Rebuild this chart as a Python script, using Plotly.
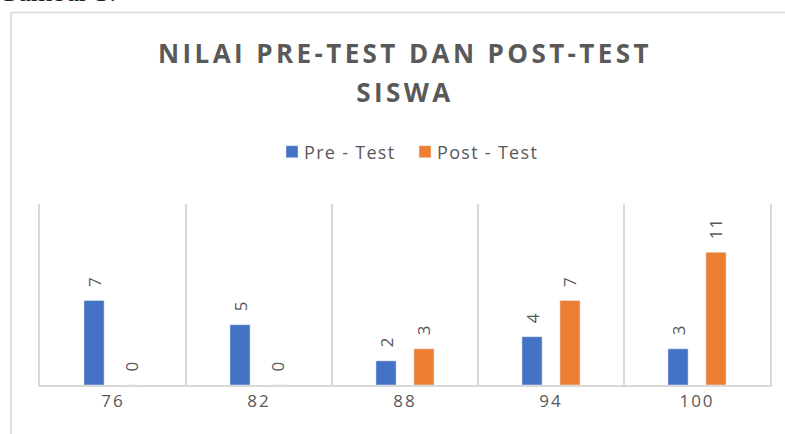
import plotly.graph_objects as go

categories = ["76", "82", "88", "94", "100"]
pre_test = [7, 5, 2, 4, 3]
post_test = [0, 0, 3, 7, 11]
series_names = ["Pre - Test", "Post - Test"]
title_text = "NILAI PRE-TEST DAN POST-TEST<br>SISWA"
caption_text = "Gambar 3."

W, H = 785, 434
L, R, T, B = 40, 15, 204, 49
pw = W - L - R
ph = H - T - B


def px_x(x):
    return (x - L) / pw


def px_y(y):
    return (H - B - y) / ph


gray = "#595959"
grid = "#D9D9D9"
fig = go.Figure()
for name, vals, col in [(series_names[0], pre_test, "#4472C4"),
                        (series_names[1], post_test, "#ED7D31")]:
    fig.add_trace(go.Bar(x=categories, y=vals, name=name, marker_color=col,
                         text=vals, textposition="outside", textangle=-90,
                         cliponaxis=False,
                         textfont=dict(size=17, color=gray, family="Open Sans")))

fig.update_layout(
    width=W, height=H,
    margin=dict(l=L, r=R, t=T, b=B),
    paper_bgcolor="white", plot_bgcolor="white",
    barmode="group", bargap=0.48, bargroupgap=0.47,
    font=dict(family="Open Sans", color=gray),
    title=dict(text=title_text, x=0.5, xanchor="center", xref="paper",
               y=1 - 63 / H, yanchor="top",
               font=dict(size=26, color=gray, family="Open Sans", weight="bold")),
    legend=dict(orientation="h", x=0.5, xanchor="center", y=px_y(152), yanchor="middle",
                font=dict(size=18, color=gray), itemwidth=30, entrywidth=88,
                traceorder="normal"),
    xaxis=dict(type="category", tickson="boundaries", showgrid=True, gridcolor=grid,
               gridwidth=1.5, showline=True, linecolor=grid, linewidth=1.5,
               ticks="", tickfont=dict(size=17, color=gray), fixedrange=True),
    yaxis=dict(range=[0, 15], visible=True, showticklabels=False, showgrid=False,
               zeroline=False, showline=True, mirror=True, linecolor=grid,
               linewidth=1.5, ticks="", fixedrange=True),
    showlegend=True,
)

fig.add_shape(type="rect", xref="paper", yref="paper",
              x0=px_x(11), x1=px_x(800), y0=px_y(450), y1=px_y(12.5),
              line=dict(color=grid, width=1.5), fillcolor="rgba(0,0,0,0)", layer="below")

fig.add_annotation(text=caption_text, xref="paper", yref="paper",
                   x=px_x(118), y=px_y(9), xanchor="right", yanchor="bottom",
                   showarrow=False, font=dict(family="Liberation Serif", size=28, color="#222222"))

post = """
document.body.style.margin = '0';
var gd = document.getElementById('{plot_id}');
gd.querySelectorAll('.gtitle').forEach(function(e){ e.style.letterSpacing = '3.4px'; });
gd.querySelectorAll('.gtitle tspan.line').forEach(function(t, i){ if (i === 1) { t.setAttribute('dy', '1.5em'); } });
gd.querySelectorAll('.xtick text').forEach(function(e){ e.style.letterSpacing = '2px'; });
gd.querySelectorAll('.legendtext').forEach(function(e){
  e.style.letterSpacing = '1.3px';
  e.setAttribute('x', '32');
});
gd.querySelectorAll('.bartext').forEach(function(e){
  e.setAttribute('transform', 'translate(0,-11) ' + (e.getAttribute('transform') || ''));
  e.style.letterSpacing = '1px';
});
"""

fig.write_html("out.html", post_script=post, config={"displayModeBar": False})
